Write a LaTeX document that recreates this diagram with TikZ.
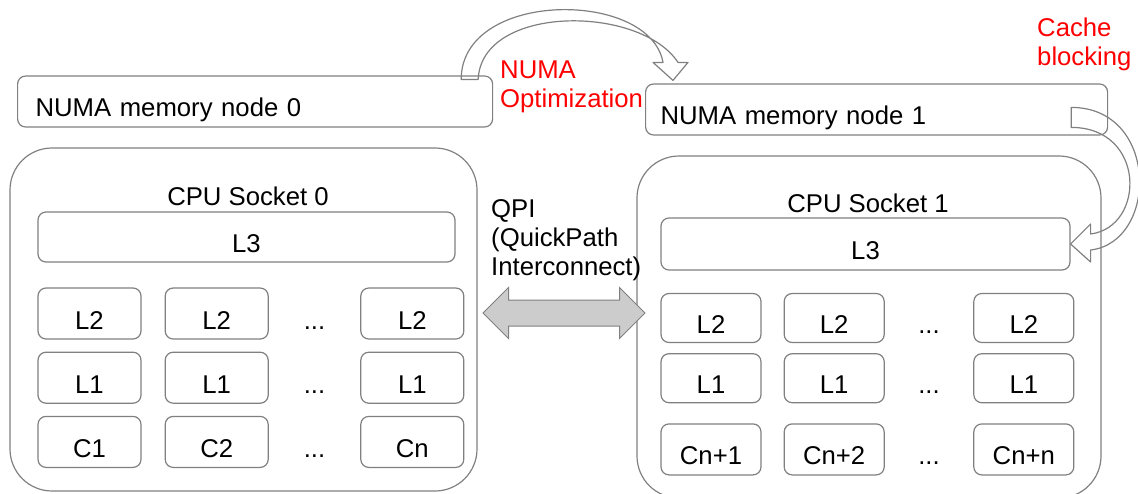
\documentclass[tikz,border=0pt]{standalone}
\usepackage{fontspec}
\setmainfont{Liberation Sans}
\usetikzlibrary{shapes.arrows,positioning}
\definecolor{boxgray}{RGB}{128,128,128}
\definecolor{qpigray}{RGB}{204,204,204}
\definecolor{notered}{RGB}{255,0,0}

\begin{document}
\begin{tikzpicture}[x=1pt, y=-1pt, font=\fontsize{25.7}{29}\selectfont]
  \tikzstyle{memory} = [rectangle, draw=boxgray, line width=1.2pt, rounded corners=8pt,
    minimum height=51pt, align=left, inner ysep=0pt, text height=29pt, text depth=0pt, anchor=west]
  \tikzstyle{socket} = [rectangle, draw=boxgray, line width=1.2pt, rounded corners=42pt]
  \tikzstyle{cache} = [rectangle, draw=boxgray, line width=1.2pt, rounded corners=8pt,
    text height=31pt, text depth=0pt, inner sep=0pt]
  \tikzstyle{core} = [cache, minimum width=103pt, minimum height=51pt]
  \tikzstyle{corer} = [cache, minimum width=100pt, minimum height=49pt]
  \tikzstyle{dots} = [inner sep=0pt, text height=31pt, text depth=0pt]
  \tikzstyle{note} = [text=notered, inner sep=0pt, align=left, anchor=north west]
  \tikzstyle{hollow} = [draw=boxgray, line width=1.2pt, line join=round]

  \useasboundingbox (0,0) rectangle (1138,493);

  % Place nodes
  \node [memory, text width=439pt, inner xsep=18pt] (mem0) at (17,101.5) {NUMA memory node 0};
  \node [memory, text width=432pt, inner xsep=15pt] (mem1) at (645,109.5) {NUMA memory node 1};

  \node [socket, minimum width=467pt, minimum height=343pt] (sock0) at (243.5,319.5) {};
  \node [inner sep=0pt] (sock0title) at (248,196) {CPU Socket 0};
  \node [cache, minimum width=417pt, minimum height=50pt] (sock0l3) at (246.5,237) {L3};

  \node [core] (s0l2a) at (89.5,313.5) {L2};
  \node [core, right=23pt of s0l2a] (s0l2b) {L2};
  \node [dots, right=0pt of s0l2b, minimum width=91pt] (s0l2dots) {...};
  \node [core, right=0pt of s0l2dots] (s0l2n) {L2};

  \node [core, below=12pt of s0l2a] (s0l1a) {L1};
  \node [core, right=23pt of s0l1a] (s0l1b) {L1};
  \node [dots, right=0pt of s0l1b, minimum width=91pt] (s0l1dots) {...};
  \node [core, right=0pt of s0l1dots] (s0l1n) {L1};

  \node [core, below=12pt of s0l1a] (s0ca) {C1};
  \node [core, right=23pt of s0ca] (s0cb) {C2};
  \node [dots, right=0pt of s0cb, minimum width=91pt] (s0cdots) {...};
  \node [core, right=0pt of s0cdots] (s0cn) {Cn};

  \node [socket, minimum width=464pt, minimum height=342pt] (sock1) at (869,327) {};
  \node [inner sep=0pt] (sock1title) at (868,203) {CPU Socket 1};
  \node [cache, minimum width=409pt, minimum height=52pt] (sock1l3) at (865.5,244) {L3};

  \node [corer] (s1l2a) at (711,318) {L2};
  \node [corer, right=22pt of s1l2a] (s1l2b) {L2};
  \node [dots, right=0pt of s1l2b, minimum width=88pt] (s1l2dots) {...};
  \node [corer, right=0pt of s1l2dots] (s1l2n) {L2};

  \node [corer, below=10pt of s1l2a] (s1l1a) {L1};
  \node [corer, right=22pt of s1l1a] (s1l1b) {L1};
  \node [dots, right=0pt of s1l1b, minimum width=88pt] (s1l1dots) {...};
  \node [corer, right=0pt of s1l1dots] (s1l1n) {L1};

  \node [corer, minimum height=51pt, below=20pt of s1l1a] (s1ca) {Cn+1};
  \node [corer, minimum height=51pt, right=22pt of s1ca] (s1cb) {Cn+2};
  \node [dots, right=0pt of s1cb, minimum width=88pt] (s1cdots) {...};
  \node [corer, minimum height=51pt, right=0pt of s1cdots] (s1cn) {Cn+n};

  \node [double arrow, draw=boxgray, fill=qpigray, line width=1pt, inner xsep=0pt, inner ysep=12.5pt,
    minimum height=162pt, double arrow head extend=12.5pt] (qpi) at (564,313) {};
  \node [inner sep=0pt, align=left, anchor=north west] (qpilabel) at (491,199)
    {QPI\\(QuickPath\\Interconnect)};

  \node [note] (numaopt) at (500,60.5) {NUMA\\Optimization};
  \node [note] (cacheblk) at (1037,18) {Cache\\blocking};

  % Draw edges
  \coordinate (optout) at ([xshift=-32pt,yshift=-4pt]mem0.north east);
  \coordinate (optin) at ([xshift=-15pt,yshift=-4pt]mem0.north east);
  \coordinate (opttip) at ([xshift=28pt,yshift=3pt]mem1.north west);
  \draw [hollow] (optout) .. controls +(0,-90) and +(-13,-73) .. ([shift={(-10,-18)}]opttip)
    -- ++(-10,0) -- (opttip) -- ++(15,-18) -- ++(-10,0)
    .. controls +(-38,-58) and +(3,-75) .. (optin) -- cycle;

  \coordinate (cacheout) at ([xshift=-37pt,yshift=-24pt]mem1.north east);
  \coordinate (cachein) at ([xshift=-37pt,yshift=-44pt]mem1.north east);
  \coordinate (cachetip) at (sock1l3.east);
  \draw [hollow] (cacheout) .. controls +(88,0) and +(68,-8) .. ([shift={(20,6)}]cachetip)
    -- ++(0,12) -- (cachetip) -- ++(20,-20) -- ++(0,10)
    .. controls +(55,-7) and +(75,0) .. (cachein) -- cycle;
\end{tikzpicture}
\end{document}
